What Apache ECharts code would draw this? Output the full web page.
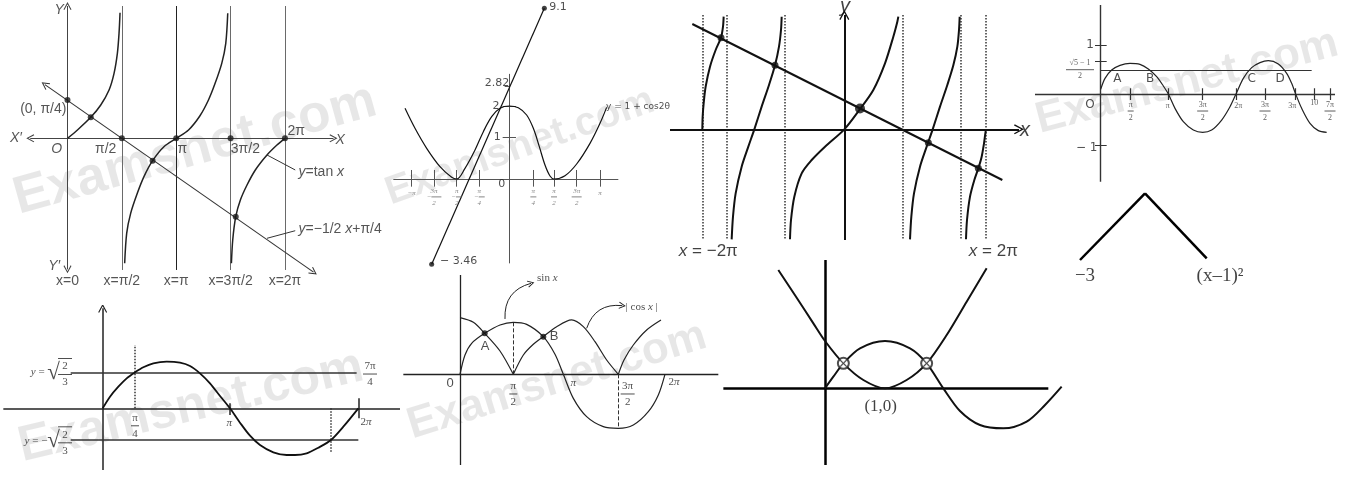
<!DOCTYPE html>
<html><head><meta charset="utf-8">
<script src="https://cdn.jsdelivr.net/npm/echarts@6/dist/echarts.min.js"></script>
<style>html,body{margin:0;padding:0;background:#fff}#c{width:1352px;height:483px}</style>
</head><body><div id="c"></div>
<script>
// ================= DATA =================
// Panel 1: y = tan x and y = -x/2 + π/4  (x in radians)
const p1TanBranch1 = [[0,0],[0.288,0.171],[0.672,0.430],[0.961,0.683],[1.201,0.990],[1.345,1.331],[1.441,1.741],[1.489,2.150],[1.518,2.573]];
const p1TanBranch2 = [[1.652,-2.560],[1.710,-1.945],[1.825,-1.536],[2.017,-1.126],[2.209,-0.785],[2.459,-0.457],[2.786,-0.171],[3.142,0],[3.497,0.171],[3.823,0.457],[4.073,0.785],[4.265,1.126],[4.457,1.536],[4.573,1.945],[4.630,2.560]];
const p1TanBranch3 = [[4.736,-2.560],[4.774,-2.082],[4.861,-1.604],[4.995,-1.263],[5.187,-0.956],[5.427,-0.648],[5.764,-0.341],[6.052,-0.137],[6.283,0]];
const p1Line = [[-0.653,1.10],[7.109,-2.74]];
const p1Asymptotes = [1.571, 4.712, 6.283];
const p1PiLine = [3.142];
const p1AsymRange = [2.710, -2.696];
const p1Dots = [[0,0.785],[0.672,0.430],[1.571,0],[2.459,-0.457],[3.142,0],[4.712,0],[6.283,0],[4.861,-1.604]];
const p1XAxis = [[-1.076,0],[7.685,0]];
const p1YAxis = [[0,2.710],[0,-2.683]];
const p1Leaders = [[[5.765,-0.341],[6.58,-0.648]],[[5.765,-2.047],[6.58,-1.892]]];
const p1Labels = [
  [-0.24,2.63,'{i|Y}'],[-1.49,0,'{i|X′}'],[7.88,-0.03,'{i|X}'],[-0.31,-0.225,'{i|O}'],
  [1.105,-0.225,'π/2'],[3.315,-0.225,'π'],[5.14,-0.225,'3π/2'],[6.61,0.15,'2π'],
  [-0.70,0.594,'(0, π/4)'],[-0.384,-2.615,'{i|Y′}'],
  [0,-2.92,'x=0'],[1.571,-2.92,'x=π/2'],[3.142,-2.92,'x=π'],[4.712,-2.92,'x=3π/2'],[6.283,-2.92,'x=2π'],
  [6.675,-0.683,'{i|y}=tan {i|x}','left'],[6.675,-1.864,'{i|y}=−1/2 {i|x}+π/4','left']
];

// Panel 2: y = 1 + cos2θ
const p2Curve = [[-3.367,1.936],[-3.045,1.388],[-2.668,0.840],[-2.238,0.338],[-1.861,0.046],[-1.700,0],[-1.431,0.292],[-1.108,0.795],[-0.839,1.297],[-0.570,1.708],[-0.301,1.936],[0,2.0],[0.290,1.954],[0.559,1.753],[0.775,1.388],[0.968,0.886],[1.151,0.384],[1.313,0.082],[1.442,0],[1.797,0.091],[2.173,0.411],[2.604,0.977],[2.926,1.525],[3.141,1.963]];
const p2Line = [[-2.507,-2.338],[1.130,4.676]];
const p2XAxis = [[-3.744,0],[3.518,0]];
const p2YAxis = [[0,2.88],[0,-2.311]];
const p2TickX = [-3.152,-2.431,-1.700,-0.968,0.775,1.442,2.173,2.926];
const p2TickLabels = ['−π','−3π/2','−π/2','−π/4','π/4','π/2','3π/2','π'];
const p2YTicks = [2.0, 1.142];
const p2Labels = [[-0.398,2.639,'2.82'],[-0.430,2.0,'2'],[-0.387,1.142,'1'],[-0.247,-0.146,'0'],[1.291,4.721,'9.1','left'],[-2.238,-2.247,'− 3.46','left']];
const p2CurveLabel = [[3.12,1.98,'y = 1 + cos2θ','left']];

// Panel 3: tangent-like branches, line, asymptotes x = ±2π
const p3Dotted = [-6.298,-5.219,-2.632,2.587,5.174,6.283];
const p3DotRange = [5.071,-4.908];
const p3CurveA = [[-6.298,0],[-6.283,0.562],[-6.239,1.153],[-6.150,1.892],[-5.958,2.779],[-5.707,3.519],[-5.470,4.066],[-5.381,4.554],[-5.352,4.997]];
const p3CurveB = [[-4.997,-4.879],[-4.938,-3.873],[-4.820,-2.839],[-4.554,-1.656],[-4.258,-0.769],[-3.992,0],[-3.667,1.005],[-3.341,1.966],[-3.075,2.839],[-2.898,3.667],[-2.809,4.406],[-2.779,4.997]];
const p3CurveC = [[-2.410,-4.879],[-2.365,-4.021],[-2.218,-2.986],[-1.892,-1.952],[-1.449,-1.360],[-0.857,-0.769],[0,0],[0.695,0.90],[1.286,1.745],[1.804,2.927],[2.173,4.110],[2.351,4.775],[2.395,4.997]];
const p3CurveD = [[2.913,-4.879],[2.972,-3.873],[3.090,-2.839],[3.356,-1.656],[3.652,-0.769],[3.918,0],[4.243,1.005],[4.568,1.966],[4.834,2.839],[5.012,3.667],[5.086,4.406],[5.115,4.997]];
const p3CurveE = [[5.396,-4.879],[5.441,-4.021],[5.574,-2.986],[5.766,-2.247],[5.943,-1.730],[6.091,-1.212],[6.195,-0.621],[6.254,-0.177],[6.283,0]];
const p3Line = [[-6.742,4.672],[7.008,-2.247]];
const p3Dots = [[-5.470,4.066],[-3.075,2.839],[3.726,-0.591],[5.943,-1.730]];
const p3BigDot = [[0.695,0.92]];
const p3XAxis = [[-7.732,0],[7.747,0]];
const p3YAxis = [[0,-4.908],[0,5.071]];
const p3Labels = [[-6.032,-5.426,'{i|x} = −2π'],[6.609,-5.426,'{i|x} = 2π']];
const p3AxisNames = [[0.03,5.44,'{i|y}'],[8.013,-0.06,'{i|x}']];

// Panel 4: sine with y = (√5−1)/2 line
const p4Curve = [[0.031,0.093],[0.230,0.311],[0.536,0.477],[0.920,0.570],[1.379,0.609],[1.839,0.589],[2.222,0.497],[2.605,0.344],[2.912,0.159],[3.142,0],[3.448,-0.285],[3.831,-0.550],[4.291,-0.715],[4.720,-0.762],[5.134,-0.715],[5.594,-0.517],[5.977,-0.252],[6.253,0],[6.590,0.311],[6.973,0.523],[7.356,0.623],[7.739,0.662],[8.199,0.596],[8.582,0.411],[8.812,0.212],[8.996,0],[9.272,-0.285],[9.655,-0.583],[10.038,-0.728],[10.421,-0.762]];
const p4HLine = [[0,0.464],[9.732,0.464]];
const p4XAxis = [[-2.989,0],[10.805,0]];
const p4YAxis = [[0,1.768],[0,-1.742]];
const p4TickX = [1.410,3.142,4.720,6.253,7.586,8.996,9.839,10.575];
const p4TickY = [0.974,0.642,-1.026];
const p4Labels = [[-0.46,-0.219,'O'],[-0.46,0.974,'1'],[-0.613,-1.067,'− 1'],[0.797,0.298,'A'],[2.299,0.298,'B'],[6.974,0.298,'C'],[8.276,0.298,'D']];
const p4TickLabels = [[1.410,-0.338,'π/2','center','f'],[3.111,-0.238,'π'],[4.720,-0.338,'3π/2','center','f'],[6.36,-0.238,'2π'],[7.586,-0.338,'3π/2','center','f'],[8.843,-0.238,'3π'],[9.853,-0.185,'10'],[10.575,-0.338,'7π/2','center','f'],[-0.920,0.483,'√5 − 1/2','center','f']];

// Panel 5: inverted V
const p5Path = [[-6.5,-6.67],[0,0],[6.17,-6.5]];
const p5Labels = [[-6.0,-8.27,'−3'],[7.5,-8.27,'(x–1)²']];

// Panel 6: sine with y = ±√(2/3)
const p6Curve = [[0,0],[0.181,0.25],[0.387,0.464],[0.592,0.643],[0.798,0.771],[1.003,0.879],[1.250,0.964],[1.579,1.0],[1.908,0.979],[2.155,0.907],[2.401,0.75],[2.648,0.536],[2.895,0.264],[3.141,0],[3.388,-0.307],[3.635,-0.586],[3.882,-0.786],[4.211,-0.943],[4.539,-1.0],[4.745,-1.0],[5.033,-0.964],[5.321,-0.843],[5.633,-0.679],[5.938,-0.393],[6.308,0]];
const p6HLines = [[[-0.789,0.771],[6.266,0.771]],[[-0.789,-0.679],[6.308,-0.679]]];
const p6Dotted = [[[0.798,0],[0.798,1.357]],[[5.633,0],[5.633,-0.929]]];
const p6Ticks = [[[3.141,0.107],[3.141,-0.143]],[[6.308,0.214],[6.308,-0.214]]];
const p6XAxis = [[-2.451,0],[7.336,0]];
const p6YAxis = [[0,-1.321],[0,2.143]];
const p6Labels = [[0.798,-0.374,'π/4','center','f'],[3.125,-0.321,'{i|π}'],[6.497,-0.286,'2{i|π}'],[6.596,0.735,'7π/4','center','f'],
  [-1.053,0.768,'{i|y} = {big|√}','right'],[-1.053,-0.696,'{i|y} = −{big|√}','right'],
  [-0.929,0.768,'{w2| }\n{fn|2}\n{w2| }\n{fn|3}'],[-0.929,-0.696,'{w2| }\n{fn|2}\n{w2| }\n{fn|3}']];

// Panel 7: sin x and |cos x|
const p7Sin = [[0,0],[0.149,0.367],[0.348,0.589],[0.736,0.778],[1.193,0.937],[1.590,0.987],[1.988,0.949],[2.485,0.715],[2.833,0.380],[3.082,0],[3.380,-0.456],[3.777,-0.804],[4.274,-0.994],[4.722,-1.025],[5.169,-0.962],[5.616,-0.709],[5.915,-0.392],[6.113,0]];
const p7AbsCos1 = [[0,1.076],[0.398,0.987],[0.736,0.778],[1.193,0.443],[1.590,0]];
const p7AbsCos2 = [[1.590,0],[1.889,0.367],[2.187,0.570],[2.485,0.715],[2.883,0.905],[3.330,1.032],[3.678,0.905],[4.026,0.620],[4.374,0.272],[4.722,0]];
const p7AbsCos3 = [[4.722,0],[4.891,0.272],[5.169,0.557],[5.567,0.842],[5.994,1.032]];
const p7Dashed = [[[1.590,0],[1.590,0.987]],[[4.722,0],[4.722,-1.025]]];
const p7Dots = [[0.736,0.778],[2.485,0.715]];
const p7XAxis = [[-1.690,0],[7.704,0]];
const p7YAxis = [[0,-1.722],[0,1.886]];
const p7Pointers = [[[1.342,1.051],[2.117,1.728]],[[3.777,0.873],[4.841,1.304]]];
const p7SansLabels = [[-0.298,-0.171,'0'],[0.746,0.525,'A'],[2.803,0.715,'B']];
const p7SerifLabels = [[1.590,-0.373,'π/2','center','f'],[3.380,-0.158,'{i|π}'],[5.0,-0.373,'3π/2','center','f'],[6.381,-0.139,'2{i|π}'],[2.604,1.823,'sin {i|x}'],[5.418,1.284,'| cos {i|x} |']];

// Panel 8: parabola and wave
const p8Parabola = [[-0.778,2.5],[-0.472,1.915],[-0.194,1.373],[0,1.0],[0.306,0.528],[0.639,0.176],[1.0,0],[1.361,0.176],[1.694,0.528],[2.028,1.127],[2.361,1.831],[2.694,2.535]];
const p8Wave = [[0,0],[0.139,0.246],[0.306,0.528],[0.583,0.845],[1.0,1.0],[1.417,0.845],[1.694,0.528],[1.972,0],[2.25,-0.479],[2.583,-0.775],[2.972,-0.845],[3.361,-0.704],[3.667,-0.352],[3.944,0.035]];
const p8Marks = [[0.306,0.528],[1.694,0.528]];
const p8XAxis = [[-1.694,0],[3.722,0]];
const p8YAxis = [[0,-1.620],[0,2.711]];
const p8Labels = [[0.928,-0.387,'(1,0)']];

// ================= RENDERING =================
const SANS='"Liberation Sans", Arial, Helvetica, sans-serif';
const DSANS='"DejaVu Sans", "Liberation Sans", sans-serif';
const SERIF='"Liberation Serif", "Times New Roman", serif';
const ARROW='path://M5,0 L10,9 L8.9,9.7 L5,2.6 L1.1,9.7 L0,9 Z';
const XMARK='path://M0,1 L1,0 L5,4 L9,0 L10,1 L6,5 L10,9 L9,10 L5,6 L1,10 L0,9 L4,5 Z';

const grids=[], xAxes=[], yAxes=[], series=[];
function panel(ox, oy, sx, sy, xr, yr){
  const i=grids.length;
  grids.push({left:ox+xr[0]*sx, top:oy-yr[1]*sy, width:(xr[1]-xr[0])*sx, height:(yr[1]-yr[0])*sy, containLabel:false, show:false});
  xAxes.push({type:'value', gridIndex:i, min:xr[0], max:xr[1], show:false});
  yAxes.push({type:'value', gridIndex:i, min:yr[0], max:yr[1], show:false});
  return i;
}
function curve(g, data, st){
  series.push({type:'line', xAxisIndex:g, yAxisIndex:g, data:data, smooth:(st.smooth===undefined?0.3:st.smooth), showSymbol:false, symbol:'none', clip:false, silent:true, z:3,
    lineStyle:{color:st.color||'#222', width:st.width||1.5, type:st.type||'solid'}});
}
function segs(g, list, st){
  series.push({type:'lines', coordinateSystem:'cartesian2d', xAxisIndex:g, yAxisIndex:g, silent:true, z:3,
    symbol:st.symbol||['none','none'], symbolSize:st.symbolSize||8,
    lineStyle:{color:st.color||'#222', width:st.width||1, type:st.type||'solid', opacity:1, curveness:st.curveness||0},
    data:list.map(c=>({coords:c}))});
}
function dots(g, data, size, st){
  st=st||{};
  series.push({type:'scatter', xAxisIndex:g, yAxisIndex:g, data:data, symbol:st.symbol||'circle', symbolSize:size, clip:false, silent:true, z:st.z||4,
    itemStyle:{color:st.color||'#111', borderColor:st.border||'#111', borderWidth:st.bw||0}});
}
function makeRich(fs, fam, col){
  const r={
    i:{fontStyle:'italic', fontFamily:fam, fontSize:fs, color:col},
    fn:{fontFamily:fam, fontSize:fs, color:col, lineHeight:fs+1},
    fs:{fontFamily:fam, fontSize:fs, color:col, lineHeight:4},
    big:{fontFamily:fam, fontSize:Math.round(fs*2.1), color:col, lineHeight:Math.round(fs*2.2)}
  };
  for(let k=1;k<=8;k++) r['w'+k]={width:Math.round(k*fs*0.55+2), height:1, lineHeight:4, fontSize:1, backgroundColor:col};
  return r;
}
function frac(s){
  let sign='';
  if(s[0]==='−'){sign='{fs|−}'; s=s.slice(1);}
  const parts=s.split('/');
  const k=Math.min(8,Math.max(parts[0].length,parts[1].length));
  return '{fn|'+parts[0]+'}\n'+sign+'{w'+k+'| }\n{fn|'+parts[1]+'}';
}
function texts(g, items, fs, fam, col, extra){
  extra=extra||{};
  series.push({type:'scatter', xAxisIndex:g, yAxisIndex:g, symbolSize:1, clip:false, silent:true, z:5,
    itemStyle:{color:'rgba(0,0,0,0)'},
    label:{show:true, position:'inside', color:col, fontFamily:fam, fontSize:fs, fontStyle:extra.italic?'italic':'normal', textBorderWidth:0, rich:makeRich(fs,fam,col)},
    data:items.map(t=>({value:[t[0],t[1]], label:{formatter:(t[4]==='f'?frac(t[2]):t[2]), align:t[3]||'center'}}))});
}
const vert=(xs,r)=>xs.map(x=>[[x,r[0]],[x,r[1]]]);

// ---- Panel 1
const g1=panel(66.67,138.33,34.7,48.83,[-1.95,9.3],[-3.12,2.83]);
segs(g1, vert(p1Asymptotes,p1AsymRange), {color:'#6a6a6a', width:1});
segs(g1, vert(p1PiLine,p1AsymRange), {color:'#222', width:1});
segs(g1, [p1XAxis,p1YAxis], {symbol:[ARROW,ARROW], symbolSize:8, color:'#444', width:1});
segs(g1, [p1Line], {symbol:[ARROW,ARROW], symbolSize:8, color:'#333', width:1.1});
segs(g1, p1Leaders, {color:'#333', width:1});
curve(g1,p1TanBranch1,{color:'#222',width:1.5});
curve(g1,p1TanBranch2,{color:'#222',width:1.5});
curve(g1,p1TanBranch3,{color:'#222',width:1.5});
dots(g1,p1Dots,6,{color:'#1a1a1a'});
texts(g1,p1Labels,14,SANS,'#2a2a2a');

// ---- Panel 2
const g2=panel(509.33,179,30.98,36.5,[-3.95,5.2],[-2.6,4.85]);
segs(g2,[p2XAxis,p2YAxis],{color:'#555',width:1});
segs(g2, p2TickX.map(x=>[[x,0.247],[x,-0.210]]), {color:'#555',width:1});
segs(g2, p2YTicks.map(y=>[[-0.215,y],[0.215,y]]).concat([[[-0.15,2.548],[0,2.548]]]), {color:'#555',width:1});
curve(g2,p2Curve,{color:'#111',width:1.2,smooth:0.35});
segs(g2,[p2Line],{color:'#111',width:1.2});
dots(g2,p2Line,5,{color:'#111'});
texts(g2,p2Labels,11,DSANS,'#222');
texts(g2,p2CurveLabel,9,DSANS,'#222');
texts(g2, p2TickX.map((x,i)=>{const s=p2TickLabels[i]; return s.indexOf('/')>=0?[x,-0.49,s,'center','f']:[x,-0.375,s];}), 7, SERIF, '#666', {italic:true});

// ---- Panel 3
const g3=panel(844.33,129.33,22.547,22.547,[-7.9,8.5],[-5.95,5.7]);
segs(g3, vert(p3Dotted,p3DotRange), {color:'#333', width:1.5, type:'dotted'});
segs(g3,[p3XAxis,p3YAxis],{symbol:['none',ARROW], symbolSize:10, color:'#111', width:2});
segs(g3,[p3Line],{color:'#111',width:2});
[p3CurveA,p3CurveB,p3CurveC,p3CurveD,p3CurveE].forEach(c=>curve(g3,c,{color:'#111',width:2}));
dots(g3,p3Dots,7,{color:'#111'});
dots(g3,p3BigDot,10,{color:'#111'});
texts(g3,p3Labels,17,SANS,'#111');
texts(g3,p3AxisNames,20,SANS,'#111');

// ---- Panel 4
const g4=panel(1100,94,21.75,50.33,[-3.2,11.2],[-1.8,1.85]);
segs(g4,[p4XAxis,p4YAxis],{color:'#333',width:1.4});
segs(g4, p4TickX.map(x=>[[x,0.113],[x,-0.119]]), {color:'#333',width:1.2});
segs(g4, p4TickY.map(y=>[[-0.230,y],[0.307,y]]), {color:'#333',width:1.2});
segs(g4,[p4HLine],{color:'#333',width:1.2});
curve(g4,p4Curve,{color:'#222',width:1.2});
texts(g4,p4Labels,12,DSANS,'#222');
texts(g4,p4TickLabels,8,SERIF,'#333');

// ---- Panel 5
const g5=panel(1145,193.3,10,10,[-8,11],[-9.5,1]);
segs(g5,[[p5Path[0],p5Path[1]],[p5Path[1],p5Path[2]]],{color:'#000',width:2.5});
texts(g5,p5Labels,19,SERIF,'#111');

// ---- Panel 6
const g6=panel(102.67,408.33,40.53,46.67,[-2.5,7.5],[-1.45,2.2]);
segs(g6,[p6XAxis],{color:'#222',width:1.5});
segs(g6,[p6YAxis],{symbol:['none',ARROW],symbolSize:9,color:'#222',width:1.5});
segs(g6,p6HLines,{color:'#333',width:1.5});
segs(g6,p6Dotted,{color:'#333',width:1.5,type:'dotted'});
segs(g6,p6Ticks,{color:'#222',width:1.5});
curve(g6,p6Curve,{color:'#111',width:1.8});
texts(g6,p6Labels,11,SERIF,'#222');

// ---- Panel 7
const g7=panel(460,374.33,33.53,52.67,[-1.8,8.0],[-1.8,2.05]);
segs(g7,[p7XAxis,p7YAxis],{color:'#222',width:1.3});
segs(g7,p7Dashed,{color:'#333',width:1,type:'dashed'});
curve(g7,p7Sin,{color:'#222',width:1.2});
curve(g7,p7AbsCos1,{color:'#222',width:1.2});
curve(g7,p7AbsCos2,{color:'#222',width:1.2});
curve(g7,p7AbsCos3,{color:'#222',width:1.2});
segs(g7,p7Pointers,{symbol:['none',ARROW],symbolSize:7,color:'#222',width:1,curveness:0.4});
dots(g7,p7Dots,6,{color:'#111'});
texts(g7,p7SansLabels,13,SANS,'#222');
texts(g7,p7SerifLabels,11,SERIF,'#222');

// ---- Panel 8
const g8=panel(825,388.33,60,47.33,[-1.75,4.0],[-1.7,2.75]);
segs(g8,[p8XAxis,p8YAxis],{color:'#000',width:2.5});
curve(g8,p8Parabola,{color:'#111',width:2});
curve(g8,p8Wave,{color:'#111',width:2});
dots(g8,p8Marks,11,{symbol:'emptyCircle',color:'#222',border:'#222',bw:1.3,z:6});
dots(g8,p8Marks,7,{symbol:XMARK,color:'#222',z:7});
texts(g8,p8Labels,17,SERIF,'#111');

// all marks sit on a layer above the watermarks
series.forEach(s=>{s.zlevel=1;});

// watermarks (layout only); translucent so marks stay visible whatever the layer order
const watermarks=[[195,150,15.5,53],[520,147,19.6,40],[1187,82,14.6,44],[191,407,13.4,50],[557,381,17.2,44]];

const chart=echarts.init(document.getElementById('c'),null,{renderer:'canvas'});
chart.setOption({
  animation:false,
  backgroundColor:'#ffffff',
  grid:grids, xAxis:xAxes, yAxis:yAxes, series:series,
  graphic:{elements:watermarks.map(w=>({type:'text', x:w[0], y:w[1], rotation:w[2]*Math.PI/180, zlevel:0, z:-10, silent:true,
    style:{text:'Examsnet.com', fill:'rgba(0,0,0,0.095)', font:'bold '+w[3]+'px "Liberation Sans", Arial, sans-serif', align:'center', verticalAlign:'middle'}}))}
});
</script></body></html>
